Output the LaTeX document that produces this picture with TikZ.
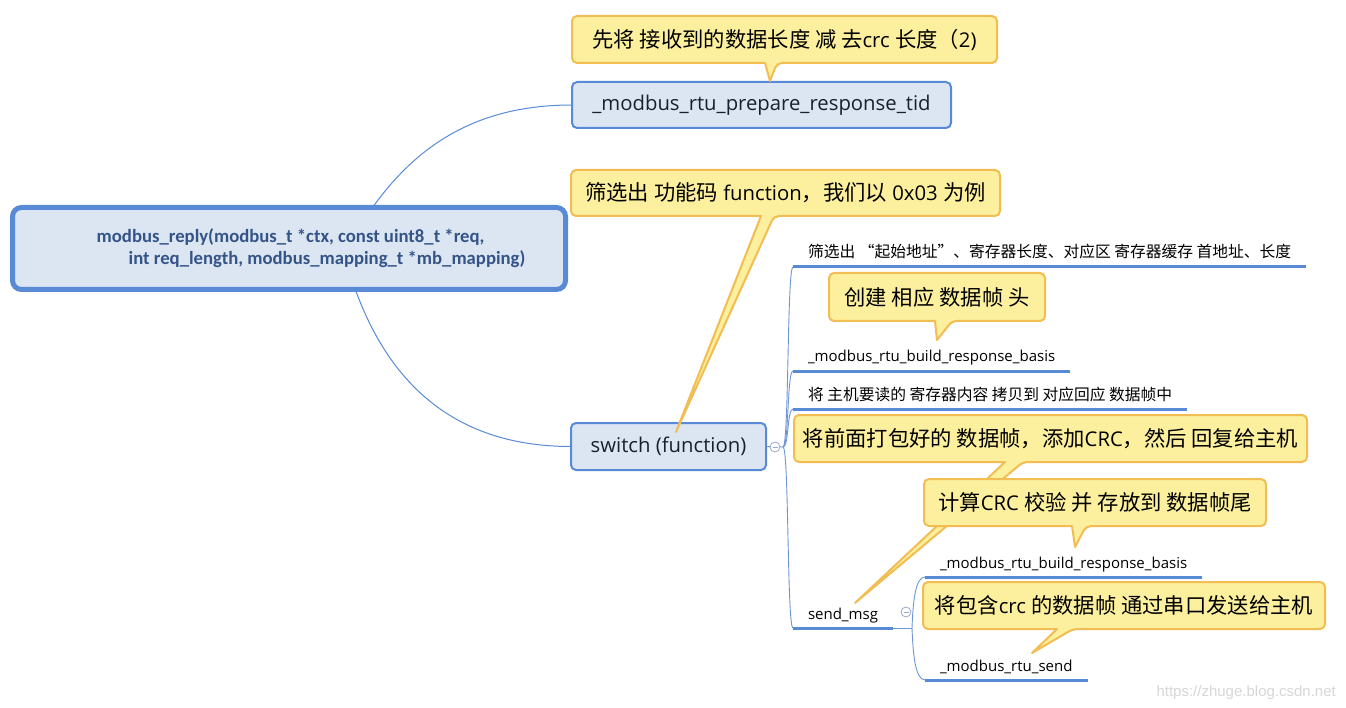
\documentclass[tikz,border=0pt]{standalone}
\usepackage{fontspec}
\setmainfont{Open Sans}
\newfontfamily\cjk[Scale=1.05]{Noto Sans CJK SC}
\newfontfamily\rootfont{Carlito}
\newfontfamily\wmfont{Liberation Sans}
\newcommand\zh[1]{{\cjk #1}}
\usetikzlibrary{calc}
\pgfdeclarelayer{bg}\pgfdeclarelayer{cshape}\pgfdeclarelayer{ctext}
\pgfsetlayers{bg,main,cshape,ctext}
\definecolor{xblue}{RGB}{88,138,214}
\definecolor{xfill}{RGB}{220,230,242}
\definecolor{yfill}{RGB}{252,239,157}
\definecolor{yline}{RGB}{242,189,82}
\definecolor{ntext}{RGB}{24,32,48}
\definecolor{rtext}{RGB}{52,84,136}
\definecolor{wm}{RGB}{215,215,215}
\definecolor{thin}{RGB}{110,150,215}
\definecolor{foldc}{RGB}{150,170,205}
\newcommand\calloutshape[4]{%
  \begin{pgfonlayer}{cshape}
  \draw[cshapestyle] (#4) -- (#2,0 |- #1.south) [rounded corners=5pt] -- (#1.south west) -- (#1.north west) -- (#1.north east) -- (#1.south east) -- (#3,0 |- #1.south) [sharp corners] -- cycle;
  \end{pgfonlayer}}
\begin{document}
\begin{tikzpicture}[x=1pt,y=-1pt,
  topic/.style={draw=xblue, line width=2pt, fill=xfill, rounded corners=5pt, text=ntext, font=\fontsize{20.3}{24}\selectfont, outer sep=0pt, inner sep=0pt},
  rootbox/.style={draw=xblue, line width=5pt, fill=xfill, rounded corners=9pt, text=rtext, outer sep=0pt, inner sep=0pt, align=left, font=\rootfont\bfseries\fontsize{18.7}{22}\selectfont},
  cbox/.style={inner sep=0pt, outer sep=0pt, text=black, font=\fontsize{20.3}{24}\selectfont},
  cshapestyle/.style={draw=yline, fill=yfill, line width=2pt, line join=round},
  sub/.style={anchor=south west, inner xsep=15pt, inner ysep=0pt, text depth=9pt, outer sep=0pt, text=black, font=\fontsize{15}{18}\selectfont},
  uline/.style={draw=xblue, line width=3pt},
  conn/.style={draw=xblue, line width=1pt},
  branch/.style={draw=thin, line width=0.9pt},
  fold/.style={circle, draw=foldc, fill=white, line width=0.8pt, minimum size=10pt, inner sep=0pt},
  foldminus/.style={draw=foldc, line width=0.8pt}
]
\useasboundingbox (0,0) rectangle (1346,708);
\begin{pgfonlayer}{bg}\fill[white] (0,0) rectangle (1346,708);\end{pgfonlayer}

% main topics
\node[rootbox, minimum width=553pt, minimum height=82pt] (root) at (289,248.5)
  {\hspace*{44pt}modbus\_reply(modbus\_t *ctx, const uint8\_t *req,\\\hspace*{76pt}int req\_length, modbus\_mapping\_t *mb\_mapping)};
\node[topic, minimum width=379pt, minimum height=46pt] (prep) at (761.5,105) {\_modbus\_rtu\_prepare\_response\_tid};
\node[topic, minimum width=195pt, minimum height=47pt] (switch) at (668.5,446.5) {switch (function)};

\coordinate (rootc) at ($(root.center)+(55,4.5)$);
\begin{pgfonlayer}{bg}
\draw[conn] (rootc) .. controls +(46,-83) and +(-121,0) .. (prep.west);
\draw[conn] (rootc) .. controls +(36,137) and +(-110,0) .. (switch.west);
\end{pgfonlayer}

% children of switch
\node[sub] (c1) at (793,267) {\zh{筛选出 “起始地址”、寄存器长度、对应区 寄存器缓存 首地址、长度}};
\node[sub] (c2) at (793,371) {\_modbus\_rtu\_build\_response\_basis};
\node[sub] (c3) at (793,409) {\zh{将 主机要读的 寄存器内容 拷贝到 对应回应 数据帧中}};
\node[sub] (c4) at (793,628) {send\_msg};
\node[sub] (d1) at (925,577) {\_modbus\_rtu\_build\_response\_basis};
\node[sub] (d2) at (925,680) {\_modbus\_rtu\_send};
\foreach \n in {c1,c2,c3,c4,d1,d2} \draw[uline] (\n.south west) -- (\n.south east);

\coordinate (swj) at (783,447);
\coordinate (smj) at (912,628);
\begin{pgfonlayer}{bg}
\draw[branch] (switch.east) -- (swj);
\foreach \n in {c1,c2,c3,c4} \draw[branch] (swj) .. controls +(6,0) and +(-6,0) .. (\n.south west);
\draw[branch] (c4.south east) -- (smj);
\draw[branch] (smj) .. controls +(1,-25) and +(-10,0) .. (d1.south west);
\draw[branch] (smj) .. controls +(1,25) and +(-10,0) .. (d2.south west);
\end{pgfonlayer}
\node[fold] (swfold) at (775,447) {};
\draw[foldminus] ([xshift=-2.5pt]swfold.center) -- ([xshift=2.5pt]swfold.center);
\node[fold] (smfold) at (906,612) {};
\draw[foldminus] ([xshift=-2.5pt]smfold.center) -- ([xshift=2.5pt]smfold.center);

% callouts
\begin{pgfonlayer}{ctext}
\node[cbox, minimum width=425pt, minimum height=47pt] (ca) at (784.5,39.5) {\zh{先将 接收到的数据长度 减 去}crc \zh{长度（}2)};
\node[cbox, minimum width=429pt, minimum height=46pt] (cb) at (785.5,193) {\zh{筛选出 功能码} function\zh{，我们以} 0x03 \zh{为例}};
\node[cbox, minimum width=216pt, minimum height=48pt] (ce) at (937,297) {\zh{创建 相应 数据帧 头}};
\node[cbox, minimum width=513pt, minimum height=47pt] (cf) at (1050.5,438.5) {\zh{将前面打包好的 数据帧，添加}CRC\zh{，然后 回复给主机}};
\node[cbox, minimum width=342pt, minimum height=47pt] (cg) at (1095,502.5) {\zh{计算}CRC \zh{校验 并 存放到 数据帧尾}};
\node[cbox, minimum width=402pt, minimum height=47pt] (ch) at (1124,605.5) {\zh{将包含}crc \zh{的数据帧 通过串口发送给主机}};
\end{pgfonlayer}
\coordinate (ta) at (770,81);
\coordinate (tb) at (676,432);
\coordinate (te) at (937,340);
\coordinate (tf) at (855,603);
\coordinate (tg) at (1075,547);
\coordinate (th) at (1032,653);
\calloutshape{ca}{765}{777}{ta}
\calloutshape{cb}{761}{774}{tb}
\calloutshape{ce}{935}{952}{te}
\calloutshape{cf}{1005}{1023}{tf}
\calloutshape{cg}{1072}{1086}{tg}
\calloutshape{ch}{1057}{1073}{th}

\node[anchor=base east, inner sep=0pt, text=wm, font=\wmfont\fontsize{15}{18}\selectfont] (wmark) at (1336,696) {https://zhuge.blog.csdn.net};
\end{tikzpicture}
\end{document}
